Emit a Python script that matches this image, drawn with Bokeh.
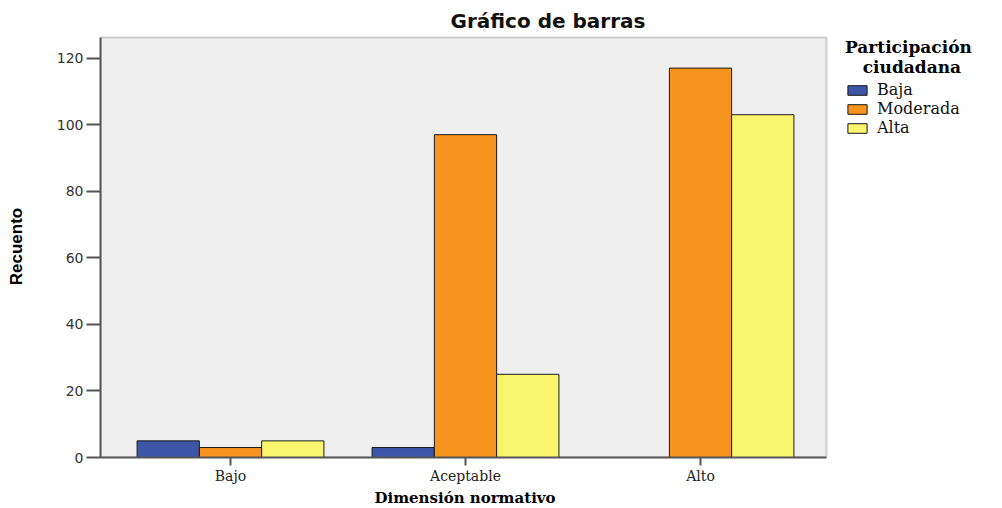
from bokeh.plotting import figure
from bokeh.models import (Range1d, Legend, LegendItem, BoxAnnotation, Title,
                          FixedTicker, SingleIntervalTicker, ColumnDataSource)
from bokeh.transform import dodge
from bokeh.embed import file_html
from bokeh.resources import INLINE

categories = ["Bajo", "Aceptable", "Alto"]
series_names = ["Baja", "Moderada", "Alta"]
baja = [5, 3, 0]
moderada = [3, 97, 117]
alta = [5, 25, 103]
colors = ["#3d56a8", "#f7941d", "#faf56e"]

xpos = list(range(1, len(categories) + 1))
source = ColumnDataSource(dict(x=xpos, Baja=baja, Moderada=moderada, Alta=alta))

# layout: one category = 235 px; visual plot box ends before the legend area
W, H = 1000, 506
left_b, top_b, bottom_b, right_b = 100, 35, 48, 2
px_per_cat = 235.0
x_start = xpos[0] - 130 / px_per_cat
x_end = x_start + (W - left_b - right_b) / px_per_cat
box_right = xpos[-1] + 126 / px_per_cat
y_end = 126.8
box_top = 126.2

p = figure(width=W, height=H,
           x_range=Range1d(x_start, x_end),
           y_range=Range1d(0, y_end),
           output_backend="svg", toolbar_location=None,
           min_border_left=left_b, min_border_right=right_b,
           min_border_top=top_b, min_border_bottom=bottom_b)

p.background_fill_color = "white"
p.border_fill_color = "white"
p.outline_line_color = None
p.xgrid.grid_line_color = None
p.ygrid.grid_line_color = None

# grey plot box with its outline
p.add_layout(BoxAnnotation(right=box_right, top=box_top, bottom=0,
                           fill_color="#efefef", fill_alpha=1,
                           line_color="#6e6e6e", line_width=2, level="underlay"))

# Title
p.title.text = "Gráfico de barras"
p.title.align = "left"
p.title.offset = 350
p.title.standoff = 6
p.title.text_font = "DejaVu Sans"
p.title.text_font_style = "bold"
p.title.text_font_size = "20px"
p.title.text_color = "#111111"

bw = 0.265
offsets = [-bw, 0.0, bw]
renderers = []
for name, off, col in zip(series_names, offsets, colors):
    r = p.vbar(x=dodge("x", off), top=name, width=bw,
               source=source, fill_color=col, line_color="#1a1a1a", line_width=1)
    renderers.append(r)

# Y axis
p.yaxis.ticker = SingleIntervalTicker(interval=20)
p.yaxis.bounds = (0, box_top)
p.yaxis.axis_label = "Recuento"
p.yaxis.axis_label_text_font = "Liberation Sans"
p.yaxis.axis_label_text_font_style = "bold"
p.yaxis.axis_label_text_font_size = "17px"
p.yaxis.axis_label_text_color = "black"
p.yaxis.axis_label_standoff = 28
p.yaxis.major_label_text_font = "DejaVu Sans"
p.yaxis.major_label_text_font_size = "14px"
p.yaxis.major_label_text_color = "#333333"
p.yaxis.major_label_standoff = 3
p.yaxis.major_tick_out = 14
p.yaxis.major_tick_in = 0
p.yaxis.minor_tick_out = 0
p.yaxis.minor_tick_in = 0
p.yaxis.axis_line_color = "#555555"
p.yaxis.axis_line_width = 2
p.yaxis.major_tick_line_color = "#555555"
p.yaxis.major_tick_line_width = 2

# X axis (categorical labels on numeric positions)
p.xaxis.ticker = FixedTicker(ticks=xpos)
p.xaxis.major_label_overrides = {x: c for x, c in zip(xpos, categories)}
p.xaxis.bounds = (x_start, box_right)
p.xaxis.major_label_text_font = "DejaVu Serif"
p.xaxis.major_label_text_font_size = "14px"
p.xaxis.major_label_text_line_height = 1.0
p.xaxis.major_label_text_color = "#222222"
p.xaxis.major_label_standoff = 2
p.xaxis.major_tick_out = 8
p.xaxis.major_tick_in = 0
p.xaxis.minor_tick_out = 0
p.xaxis.minor_tick_in = 0
p.xaxis.axis_line_color = "#555555"
p.xaxis.axis_line_width = 2
p.xaxis.major_tick_line_color = "#555555"
p.xaxis.major_tick_line_width = 2

# X axis title, centred under the grey plot box
p.add_layout(Title(text="Dimensión normativo", align="left", offset=274,
                   standoff=0, text_font="DejaVu Serif", text_font_style="bold",
                   text_font_size="15px", text_color="black"), "below")

legend = Legend(items=[LegendItem(label=n, renderers=[r]) for n, r in zip(series_names, renderers)],
                title="Participación\n\u00a0\u00a0\u00a0ciudadana",
                location=(745, 320), orientation="vertical",
                glyph_width=24, glyph_height=12, label_height=16,
                label_standoff=8, spacing=0, padding=0, margin=0,
                title_standoff=3,
                border_line_color=None, background_fill_alpha=0,
                title_text_font="DejaVu Serif", title_text_font_style="bold",
                title_text_font_size="17px", title_text_color="black",
                label_text_font="DejaVu Serif", label_text_font_size="16px",
                label_text_color="#111111")
p.add_layout(legend, "center")

open("out.html", "w").write(file_html(p, INLINE))
